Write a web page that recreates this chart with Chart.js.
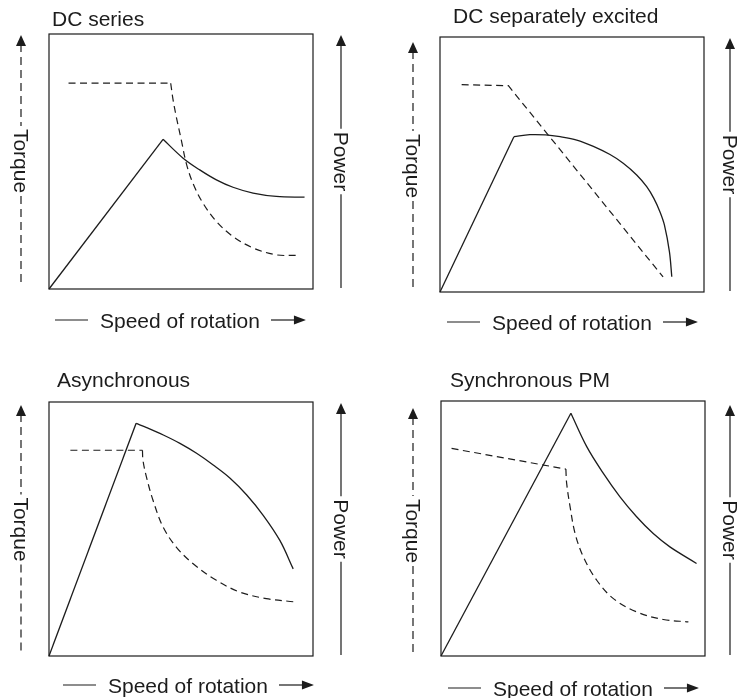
<!DOCTYPE html>
<html>
<head>
<meta charset="utf-8">
<script src="https://cdn.jsdelivr.net/npm/chart.js@4/dist/chart.umd.min.js"></script>
<style>
    html, body { margin: 0; padding: 0; background: #fff; }
    #wrap { position: relative; width: 737px; height: 698px; overflow: hidden; }
    canvas { position: absolute; }
</style>
</head>
<body>
<div id="wrap">
    <canvas id="c1" width="368" height="345" style="left:0;top:0"></canvas>
    <canvas id="c2" width="369" height="345" style="left:368px;top:0"></canvas>
    <canvas id="c3" width="368" height="353" style="left:0;top:345px"></canvas>
    <canvas id="c4" width="369" height="353" style="left:368px;top:345px"></canvas>
</div>
<script>
    const titles = ['DC series', 'DC separately excited', 'Asynchronous', 'Synchronous PM'];
    const xLabel = 'Speed of rotation';
    const leftLabel = 'Torque';
    const rightLabel = 'Power';

    // x = speed, y = torque / power, both in % of the plot box
    // DC series
    const dcsTorqueFlat = [[7.4, 80.7], [46.1, 80.7]];
    const dcsTorqueDrop = [[46.1, 80.7], [47.0, 74.2], [48.2, 67.6], [50.1, 58.5], [52.0, 49.3], [54.5, 41.5], [58.3, 33.7], [63.4, 26.5], [69.7, 20.6], [77.3, 16.1], [86.1, 13.4], [94.3, 13.2]];
    const dcsPowerRise = [[0, 0], [43.2, 58.7]];
    const dcsPowerFall = [[43.2, 58.7], [50.8, 51.3], [57.1, 46.7], [63.4, 42.8], [69.7, 39.9], [77.3, 37.6], [86.1, 36.3], [96.8, 36.0]];

    // DC separately excited
    const dcxTorque = [[8.2, 81.3], [25.9, 80.9], [84.5, 5.9]];
    const dcxPowerRise = [[0, 0], [28.0, 60.9]];
    const dcxPowerArc = [[28.0, 60.9], [34.0, 61.7], [40.0, 61.6], [45.5, 60.9], [51.8, 59.6], [58.1, 57.1], [64.4, 53.9], [69.4, 50.5], [74.5, 45.9], [78.3, 41.3], [81.0, 36.7], [83.3, 31.5], [85.0, 26.3], [86.9, 15.8], [87.8, 6.0]];

    // Asynchronous
    const asyTorqueFlat = [[8.1, 81.0], [35.4, 81.0]];
    const asyTorqueDrop = [[35.4, 81.0], [35.6, 77.0], [36.9, 70.5], [39.4, 61.3], [43.2, 50.8], [48.2, 42.9], [54.5, 36.4], [63.4, 29.8], [72.2, 25.2], [82.3, 22.6], [93.1, 21.3]];
    const asyPowerRise = [[0, 0], [33.0, 91.6]];
    const asyPowerFall = [[33.0, 91.6], [37.0, 89.9], [43.3, 87.0], [49.6, 83.7], [55.9, 79.8], [62.2, 75.2], [68.6, 70.0], [74.9, 63.4], [81.2, 55.3], [87.5, 45.4], [92.5, 34.3]];

    // Synchronous PM
    const spmTorqueFlat = [[4.0, 81.4], [47.3, 73.3]];
    const spmTorqueDrop = [[47.3, 73.3], [47.6, 67.7], [48.9, 58.5], [50.8, 48.0], [53.9, 38.9], [59.0, 29.7], [65.3, 22.5], [74.1, 17.3], [84.2, 14.3], [93.7, 13.4]];
    const spmPowerRise = [[0, 0], [49.2, 95.2]];
    const spmPowerFall = [[49.2, 95.2], [55.2, 82.1], [61.5, 71.6], [67.8, 62.4], [74.1, 54.6], [80.4, 48.0], [86.7, 42.8], [96.8, 36.3]];

    const ink = '#1c1c1c';
    const font = '21px "Liberation Sans", Arial, sans-serif';
    const capH = 7.5;

    function seg(arr, dashed, curved) {
        return {
            data: arr.map(([x, y]) => ({ x, y })),
            borderColor: ink,
            borderWidth: dashed ? 1.2 : 1.3,
            borderDash: dashed ? [7, 4.5] : [],
            tension: curved ? 0.35 : 0,
            pointRadius: 0,
            fill: false,
            clip: 4
        };
    }

    function arrowUp(ctx, x, y) {
        ctx.beginPath();
        ctx.moveTo(x, y);
        ctx.lineTo(x - 5, y + 11);
        ctx.lineTo(x + 5, y + 11);
        ctx.closePath();
        ctx.fill();
    }

    function vAxis(ctx, x, y0, y1, text, dashed) {
        const mid = (y0 + y1) / 2;
        const w = ctx.measureText(text).width;
        ctx.setLineDash(dashed ? [8, 5] : []);
        ctx.beginPath();
        ctx.moveTo(x, y0 + 9);
        ctx.lineTo(x, mid - w / 2 - 3);
        ctx.moveTo(x, mid + w / 2 + 3);
        ctx.lineTo(x, y1);
        ctx.stroke();
        ctx.setLineDash([]);
        arrowUp(ctx, x, y0);
        ctx.save();
        ctx.translate(x, mid);
        ctx.rotate(Math.PI / 2);
        ctx.textAlign = 'center';
        ctx.fillText(text, 0, capH);
        ctx.restore();
    }

    function hAxis(ctx, x, y) {
        ctx.beginPath();
        ctx.moveTo(x, y);
        ctx.lineTo(x + 33, y);
        ctx.stroke();
        ctx.textAlign = 'left';
        ctx.fillText(xLabel, x + 45, y + capH);
        const ax = x + 45 + ctx.measureText(xLabel).width + 11;
        ctx.beginPath();
        ctx.moveTo(ax, y);
        ctx.lineTo(ax + 25, y);
        ctx.stroke();
        ctx.beginPath();
        ctx.moveTo(ax + 35, y);
        ctx.lineTo(ax + 23, y - 4.5);
        ctx.lineTo(ax + 23, y + 4.5);
        ctx.closePath();
        ctx.fill();
    }

    const frame = {
        id: 'frame',
        afterDraw(chart, args, o) {
            const { ctx, chartArea: a } = chart;
            ctx.save();
            ctx.strokeStyle = ink;
            ctx.fillStyle = ink;
            ctx.lineWidth = 1.2;
            ctx.strokeRect(a.left, a.top, a.right - a.left, a.bottom - a.top);
            ctx.font = font;
            ctx.textAlign = 'left';
            ctx.fillText(o.title, a.left + o.titleX, a.top - o.titleY);
            vAxis(ctx, a.left - o.leftGap, a.top + o.leftTip, a.bottom - 2, leftLabel, true);
            vAxis(ctx, a.right + o.rightGap, a.top + o.rightTip, a.bottom - 1, rightLabel, false);
            hAxis(ctx, a.left + o.labelX, a.bottom + o.labelY);
            ctx.restore();
        }
    };

    const panels = [
        {
            id: 'c1', pad: { left: 49, top: 34, right: 55, bottom: 56 },
            deco: { title: titles[0], titleX: 3, titleY: 8, leftGap: 28, leftTip: 1, rightGap: 28, rightTip: 1, labelX: 6, labelY: 31 },
            sets: [seg(dcsTorqueFlat, true, false), seg(dcsTorqueDrop, true, true), seg(dcsPowerRise, false, false), seg(dcsPowerFall, false, true)]
        },
        {
            id: 'c2', pad: { left: 72, top: 37, right: 33, bottom: 53 },
            deco: { title: titles[1], titleX: 13, titleY: 14, leftGap: 27, leftTip: 5, rightGap: 26, rightTip: 1, labelX: 7, labelY: 30 },
            sets: [seg(dcxTorque, true, false), seg(dcxPowerRise, false, false), seg(dcxPowerArc, false, true)]
        },
        {
            id: 'c3', pad: { left: 49, top: 57, right: 55, bottom: 42 },
            deco: { title: titles[2], titleX: 8, titleY: 15, leftGap: 28, leftTip: 3, rightGap: 28, rightTip: 1, labelX: 14, labelY: 29 },
            sets: [seg(asyTorqueFlat, true, false), seg(asyTorqueDrop, true, true), seg(asyPowerRise, false, false), seg(asyPowerFall, false, true)]
        },
        {
            id: 'c4', pad: { left: 73, top: 56, right: 32, bottom: 42 },
            deco: { title: titles[3], titleX: 9, titleY: 14, leftGap: 28, leftTip: 7, rightGap: 25, rightTip: 4, labelX: 7, labelY: 32 },
            sets: [seg(spmTorqueFlat, true, false), seg(spmTorqueDrop, true, true), seg(spmPowerRise, false, false), seg(spmPowerFall, false, true)]
        }
    ];

    panels.forEach(p => {
        new Chart(document.getElementById(p.id), {
            type: 'line',
            data: { datasets: p.sets },
            options: {
                responsive: false,
                animation: false,
                devicePixelRatio: 1,
                layout: { padding: p.pad },
                scales: {
                    x: { type: 'linear', min: 0, max: 100, display: false },
                    y: { type: 'linear', min: 0, max: 100, display: false }
                },
                plugins: { legend: { display: false }, tooltip: { enabled: false }, frame: p.deco }
            },
            plugins: [frame]
        });
    });
</script>
</body>
</html>
